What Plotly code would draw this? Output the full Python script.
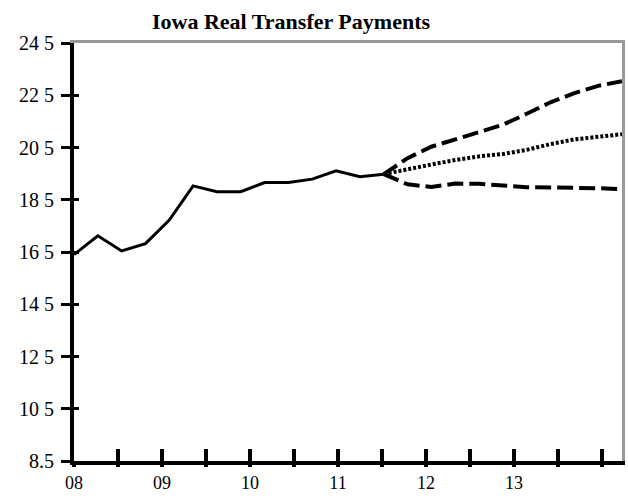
import plotly.graph_objects as go

# ---- data ----
hist_idx = list(range(0, 14))
hist_vals = [16.40, 17.12, 16.54, 16.82, 17.72, 19.03, 18.81, 18.81, 19.16, 19.16,
             19.29, 19.61, 19.38, 19.48]
fc_idx = list(range(13, 24))
fc_high = [19.48, 20.09, 20.53, 20.81, 21.08, 21.37, 21.79, 22.23, 22.58, 22.86, 23.04]
fc_mid = [19.48, 19.68, 19.85, 20.02, 20.16, 20.25, 20.41, 20.63, 20.81, 20.91, 21.01]
fc_low = [19.48, 19.09, 18.99, 19.12, 19.11, 19.05, 18.98, 18.97, 18.97, 18.94, 18.91]

y_tickvals = [8.5, 10.5, 12.5, 14.5, 16.5, 18.5, 20.5, 22.5, 24.5]
y_ticktext = ["8.5", "10 5", "12 5", "14 5", "16 5", "18 5", "20 5", "22 5", "24 5"]
year_labels = ["08", "09", "10", "11", "12", "13"]

# ---- style ----
FONT = "Liberation Serif"
W, H = 628, 498
ML, MR, MT, MB = 74, 6, 43, 37
plot_w = W - ML - MR
tick_px = 22.0
tick_range = [0, plot_w / tick_px]

major_vals = list(range(0, 25, 2))
major_text = []
for v in major_vals:
    if v % 4 == 0 and v // 4 < len(year_labels):
        major_text.append(year_labels[v // 4])
    else:
        major_text.append("")
minor_vals = list(range(1, 25, 2))

fig = go.Figure()
fig.add_trace(go.Scatter(x=hist_idx, y=hist_vals, mode="lines",
                         line=dict(color="black", width=3), showlegend=False))
fig.add_trace(go.Scatter(x=fc_idx, y=fc_high, mode="lines",
                         line=dict(color="black", width=4, dash="16px,6px"), showlegend=False))
fig.add_trace(go.Scatter(x=fc_idx, y=fc_mid, mode="lines",
                         line=dict(color="black", width=4, dash="3px,2px"), showlegend=False))
fig.add_trace(go.Scatter(x=fc_idx, y=fc_low, mode="lines",
                         line=dict(color="black", width=4, dash="16px,6px"), showlegend=False))

# empty helper traces to activate overlay axes
for xa, ya in [("x2", "y"), ("x3", "y"), ("x4", "y"), ("x", "y2"), ("x", "y3")]:
    fig.add_trace(go.Scatter(x=[], y=[], xaxis=xa, yaxis=ya, showlegend=False, hoverinfo="skip"))

fig.update_layout(
    width=W, height=H,
    margin=dict(l=ML, r=MR, t=MT, b=MB, pad=0),
    paper_bgcolor="white", plot_bgcolor="white",
    title=dict(text="<b>Iowa Real Transfer Payments</b>",
               font=dict(family=FONT, size=22, color="black"),
               x=291 / W, xanchor="center", y=1 - 21 / H, yanchor="middle"),
    xaxis=dict(range=[0, 23], showline=True, linecolor="black", linewidth=4,
               ticks="", showticklabels=False, showgrid=False, zeroline=False),
    xaxis2=dict(range=[0, 23], overlaying="x", side="top", anchor="y", showline=True,
                linecolor="#999999", linewidth=3, ticks="", showticklabels=False,
                showgrid=False, zeroline=False),
    xaxis3=dict(range=tick_range, overlaying="x", side="bottom", anchor="y",
                tickmode="array", tickvals=major_vals, ticktext=major_text,
                ticks="outside", ticklen=5, tickwidth=4, tickcolor="black",
                tickfont=dict(family=FONT, size=18, color="black"),
                minor=dict(tickmode="array", tickvals=minor_vals, ticks="outside",
                           ticklen=3, tickwidth=4, tickcolor="black"),
                showline=False, showgrid=False, zeroline=False),
    xaxis4=dict(range=tick_range, overlaying="x", side="bottom", anchor="y",
                tickmode="array", tickvals=major_vals, showticklabels=False,
                ticks="inside", ticklen=12, tickwidth=4, tickcolor="black",
                showline=False, showgrid=False, zeroline=False),
    yaxis=dict(range=[8.5, 24.5], showline=True, linecolor="black", linewidth=4,
               tickmode="array", tickvals=y_tickvals, ticktext=y_ticktext,
               ticks="outside", ticklen=9, tickwidth=3, tickcolor="black",
               ticklabelstandoff=3,
               tickfont=dict(family=FONT, size=20, color="black"),
               showgrid=False, zeroline=False),
    yaxis2=dict(range=[8.5, 24.5], overlaying="y", side="right", anchor="x",
                showline=True, linecolor="#999999", linewidth=3, ticks="",
                showticklabels=False, showgrid=False, zeroline=False),
    yaxis3=dict(range=[8.5, 24.5], overlaying="y", side="left", anchor="x",
                tickmode="array", tickvals=y_tickvals, showticklabels=False,
                ticks="inside", ticklen=5, tickwidth=3, tickcolor="black",
                showline=False, showgrid=False, zeroline=False),
)

fig.write_html("out.html", config={"displayModeBar": False},
               post_script="document.body.style.margin='0';")
